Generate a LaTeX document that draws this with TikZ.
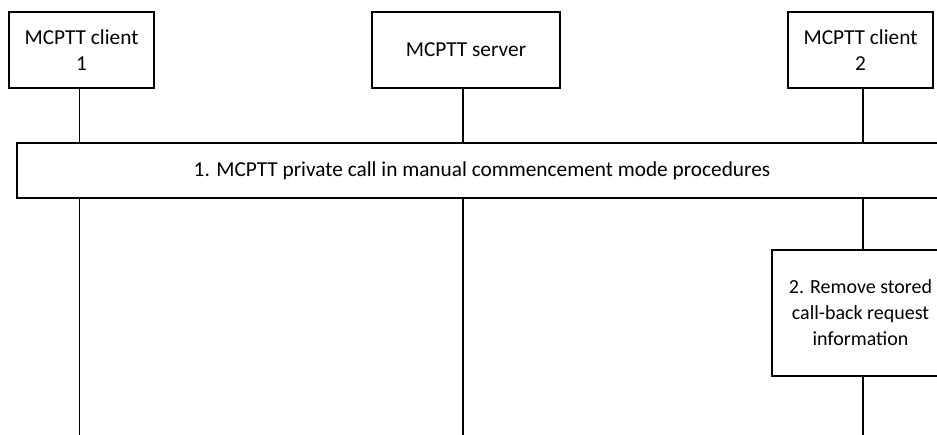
\documentclass[tikz,border=0pt]{standalone}
\usepackage{fontspec}
\setmainfont{Carlito}
\begin{document}
\begin{tikzpicture}[
x=1pt, y=1pt,
every node/.style={font=\fontsize{21.3}{26}\selectfont},
entity/.style={draw, line width=1.4pt, fill=white, align=center, minimum height=76pt, inner sep=0pt},
stepbox/.style={draw, line width=1.4pt, fill=white, align=center, inner sep=0pt},
lifeline/.style={line width=1.4pt}
]

    \useasboundingbox (0,0) rectangle (937,-435);
    \clip (0,0) rectangle (937,-435);

    % Entities
    \node[entity, minimum width=145pt] (client1) at (81.5,-50) {MCPTT client\\1};
    \node[entity, minimum width=188pt] (server) at (466,-50) {MCPTT server};
    \node[entity, minimum width=145pt] (client2) at (860.5,-50) {MCPTT client\\2};

    % Lifelines
    \coordinate (top1) at ([xshift=-2pt]client1.south);
    \coordinate (top2) at ([xshift=-3pt]server.south);
    \coordinate (top3) at ([xshift=2.5pt]client2.south);
    \coordinate (end1) at (top1 |- 0,-440);
    \coordinate (end2) at (top2 |- 0,-440);
    \coordinate (end3) at (top3 |- 0,-440);
    \draw[lifeline] (top1) -- (end1);
    \draw[lifeline] (top2) -- (end2);
    \draw[lifeline] (top3) -- (end3);

    % Steps
    \node[stepbox, minimum width=930pt, minimum height=55pt] (step1) at (482,-170.5)
    {1. MCPTT private call in manual commencement mode procedures};
    \node[stepbox, minimum width=182pt, minimum height=126pt,
          font=\fontsize{20}{26}\selectfont] (step2) at (863,-313)
    {\hspace*{-5pt}2. Remove stored\\\hspace*{-5pt}call-back request\\\hspace*{-5pt}information};

\end{tikzpicture}
\end{document}
